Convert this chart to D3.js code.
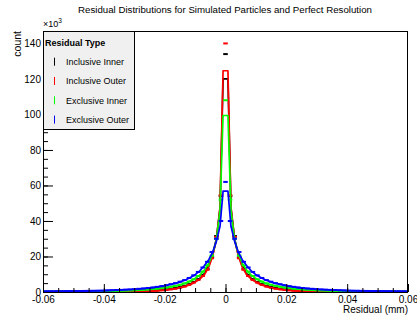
<!DOCTYPE html>
<html>
<head>
<meta charset="utf-8">
<script src="https://cdn.jsdelivr.net/npm/d3@7"></script>
<style>
  body { margin: 0; background: #fff; }
  svg { display: block; font-family: "Liberation Sans", Arial, Helvetica, sans-serif; }
</style>
</head>
<body>
<div id="chart"></div>
<script>
// histogram bins: 81 bins of 0.0015 mm, centres from -0.06 to 0.06 (counts in thousands)
var binStart = -0.06, binWidth = 0.0015;

var inclInner = [
  0.07,0.07,0.08,0.08,0.09,0.09,0.10,0.10,0.11,0.12,
  0.13,0.14,0.15,0.16,0.18,0.20,0.23,0.26,0.30,0.35,
  0.40,0.47,0.55,0.65,0.78,0.95,1.18,1.45,1.8,2.25,
  2.8,3.5,4.4,5.6,7.2,9.5,13,19.5,31.5,54,
  134,
  54,31.5,19.5,13,9.5,7.2,5.6,4.4,3.5,2.8,
  2.25,1.8,1.45,1.18,0.95,0.78,0.65,0.55,0.47,0.40,
  0.35,0.30,0.26,0.23,0.20,0.18,0.16,0.15,0.14,0.13,
  0.12,0.11,0.10,0.10,0.09,0.09,0.08,0.08,0.07,0.07
];
var inclOuter = [
  0.05,0.05,0.06,0.06,0.06,0.07,0.07,0.08,0.08,0.09,
  0.09,0.10,0.11,0.12,0.13,0.15,0.17,0.19,0.22,0.26,
  0.30,0.36,0.42,0.50,0.60,0.75,0.95,1.2,1.5,1.9,
  2.4,3.1,4.0,5.3,6.8,9.0,12.5,19,31,54.5,
  140,
  54.5,31,19,12.5,9.0,6.8,5.3,4.0,3.1,2.4,
  1.9,1.5,1.2,0.95,0.75,0.60,0.50,0.42,0.36,0.30,
  0.26,0.22,0.19,0.17,0.15,0.13,0.12,0.11,0.10,0.09,
  0.09,0.08,0.08,0.07,0.07,0.06,0.06,0.06,0.05,0.05
];
var exclInner = [
  0.16,0.17,0.18,0.20,0.21,0.23,0.25,0.27,0.29,0.32,
  0.35,0.39,0.43,0.47,0.52,0.58,0.65,0.72,0.80,0.90,
  1.0,1.12,1.27,1.45,1.65,1.9,2.2,2.55,3.0,3.5,
  4.1,4.9,5.9,7.2,9.0,11.5,15,20.5,30,52,
  108,
  52,30,20.5,15,11.5,9.0,7.2,5.9,4.9,4.1,
  3.5,3.0,2.55,2.2,1.9,1.65,1.45,1.27,1.12,1.0,
  0.90,0.80,0.72,0.65,0.58,0.52,0.47,0.43,0.39,0.35,
  0.32,0.29,0.27,0.25,0.23,0.21,0.20,0.18,0.17,0.16
];
var exclOuter = [
  0.34,0.36,0.38,0.40,0.43,0.46,0.49,0.52,0.56,0.60,
  0.65,0.70,0.76,0.83,0.90,0.98,1.08,1.18,1.3,1.45,
  1.6,1.8,2.0,2.25,2.55,2.9,3.3,3.8,4.4,5.0,
  5.8,6.7,7.9,9.4,11.3,13.8,17,22.5,30,40,
  62,
  40,30,22.5,17,13.8,11.3,9.4,7.9,6.7,5.8,
  5.0,4.4,3.8,3.3,2.9,2.55,2.25,2.0,1.8,1.6,
  1.45,1.3,1.18,1.08,0.98,0.90,0.83,0.76,0.70,0.65,
  0.60,0.56,0.52,0.49,0.46,0.43,0.40,0.38,0.36,0.34
];

// fitted curves, sampled at curveX (thousands)
var curveX = [-0.06,-0.05,-0.04,-0.03,-0.025,-0.02,-0.016,-0.013,-0.0105,-0.0085,-0.007,-0.0055,-0.0042,-0.003,-0.0018,-0.0008,
              0.0008,0.0018,0.003,0.0042,0.0055,0.007,0.0085,0.0105,0.013,0.016,0.02,0.025,0.03,0.04,0.05,0.06];
var inclInnerFit = [0.07,0.10,0.17,0.38,0.65,1.25,2.2,3.5,5.3,7.6,10.2,14.8,21,30,47,120,
                    120,47,30,21,14.8,10.2,7.6,5.3,3.5,2.2,1.25,0.65,0.38,0.17,0.10,0.07];
var inclOuterFit = [0.05,0.08,0.12,0.28,0.50,1.05,1.95,3.2,5.0,7.2,9.6,14,20.5,29.5,48,124.6,
                    124.6,48,29.5,20.5,14,9.6,7.2,5.0,3.2,1.95,1.05,0.50,0.28,0.12,0.08,0.05];
var exclInnerFit = [0.16,0.26,0.47,0.97,1.45,2.35,3.55,5.0,7.0,9.4,12.2,16.2,21.8,29,46,99.4,
                    99.4,46,29,21.8,16.2,12.2,9.4,7.0,5.0,3.55,2.35,1.45,0.97,0.47,0.26,0.16];
var exclOuterFit = [0.33,0.50,0.82,1.55,2.2,3.5,5.0,6.9,9.1,11.8,14.8,18.2,22.5,28.5,37,56.8,
                    56.8,37,28.5,22.5,18.2,14.8,11.8,9.1,6.9,5.0,3.5,2.2,1.55,0.82,0.50,0.33];

var seriesNames = ["Inclusive Inner", "Inclusive Outer", "Exclusive Inner", "Exclusive Outer"];
var seriesColors = ["#000000", "#ff0000", "#00ff00", "#0000ff"];
var histData = [inclInner, inclOuter, exclInner, exclOuter];
var fitData = [inclInnerFit, inclOuterFit, exclInnerFit, exclOuterFit];

var xTicks = [-0.06, -0.04, -0.02, 0, 0.02, 0.04, 0.06];
var yTicks = [0, 20, 40, 60, 80, 100, 120, 140];

var width = 417, height = 320;
var padL = 43, padR = 408, padT = 31, padB = 292;

var svg = d3.select("#chart").append("svg")
    .attr("width", width)
    .attr("height", height);

var x = d3.scaleLinear().domain([-0.06, 0.06]).range([padL, padR]);
var y = d3.scaleLinear().domain([0, 147]).range([padB, padT]);

svg.append("defs").append("clipPath").attr("id", "frame")
  .append("rect")
    .attr("x", padL).attr("y", padT)
    .attr("width", padR - padL).attr("height", padB - padT);

// title
svg.append("text")
    .attr("x", 225)
    .attr("y", 12.5)
    .attr("text-anchor", "middle")
    .style("font-size", "9.7px")
    .text("Residual Distributions for Simulated Particles and Perfect Resolution");

// histograms + fits
var plot = svg.append("g").attr("clip-path", "url(#frame)");
var line = d3.line()
    .x(function (d) { return x(d[0]); })
    .y(function (d) { return y(d[1]); });

histData.forEach(function (hist, s) {
  var col = seriesColors[s];
  var fit = curveX.map(function (cx, i) { return [cx, fitData[s][i]]; });
  plot.append("path")
      .attr("d", line(fit))
      .attr("fill", "none")
      .attr("stroke", col)
      .attr("stroke-width", 1.7)
      .attr("stroke-linejoin", "round");

  plot.selectAll(null)
      .data(hist)
      .enter()
      .append("line")
      .attr("x1", function (d, i) { return x(binStart + i * binWidth - binWidth / 2); })
      .attr("x2", function (d, i) { return x(binStart + i * binWidth + binWidth / 2); })
      .attr("y1", function (d) { return y(d); })
      .attr("y2", function (d) { return y(d); })
      .attr("stroke", col)
      .attr("stroke-width", 2);
});

// axes, ROOT style: ticks drawn inside the frame
var xAxis = svg.append("g")
    .attr("transform", "translate(0," + padB + ")")
    .call(d3.axisBottom(x).tickValues(xTicks).tickSize(-8).tickPadding(4)
      .tickFormat(function (d) { return d === 0 ? "0" : d.toFixed(2); }));
var xMinor = svg.append("g")
    .attr("transform", "translate(0," + padB + ")")
    .call(d3.axisBottom(x).tickValues(d3.range(-0.06, 0.0601, 0.005)).tickSize(-4).tickFormat(""));
xAxis.selectAll(".domain").remove();
xMinor.selectAll(".domain").remove();
xAxis.selectAll("text").style("font-size", "10px").attr("fill", "#000");

var yAxis = svg.append("g")
    .attr("transform", "translate(" + padL + ",0)")
    .call(d3.axisLeft(y).tickValues(yTicks).tickSize(-10).tickPadding(2));
var yMinor = svg.append("g")
    .attr("transform", "translate(" + padL + ",0)")
    .call(d3.axisLeft(y).tickValues(d3.range(0, 146, 5)).tickSize(-5).tickFormat(""));
yAxis.selectAll(".domain").remove();
yMinor.selectAll(".domain").remove();
yAxis.selectAll("text").style("font-size", "10px").attr("fill", "#000");

// frame
svg.append("rect")
    .attr("x", padL + 0.5).attr("y", padT + 0.5)
    .attr("width", padR - padL - 1).attr("height", padB - padT)
    .attr("fill", "none")
    .attr("stroke", "#000")
    .attr("stroke-width", 1);

// axis titles
svg.append("text")
    .attr("x", padR)
    .attr("y", 313)
    .attr("text-anchor", "end")
    .style("font-size", "10px")
    .text("Residual (mm)");

svg.append("text")
    .attr("transform", "translate(21," + padT + ") rotate(-90)")
    .attr("text-anchor", "end")
    .style("font-size", "10.5px")
    .text("count");

var exp = svg.append("text")
    .attr("x", padL)
    .attr("y", 27)
    .style("font-size", "9px")
    .text("\u00d710");
exp.append("tspan")
    .attr("dy", -4)
    .style("font-size", "6.5px")
    .text("3");

// legend
var legend = svg.append("g");
legend.append("rect")
    .attr("x", padL + 0.5).attr("y", padT + 0.5)
    .attr("width", 91).attr("height", 98)
    .attr("fill", "#f0f0f0")
    .attr("stroke", "#000");
legend.append("text")
    .attr("x", 45)
    .attr("y", 45.5)
    .style("font-size", "9px")
    .style("font-weight", "bold")
    .text("Residual Type");

seriesNames.forEach(function (name, i) {
  var cy = 61.7 + i * 19.3;
  legend.append("line")
      .attr("x1", 54.5).attr("x2", 54.5)
      .attr("y1", cy - 4).attr("y2", cy + 4)
      .attr("stroke", seriesColors[i])
      .attr("stroke-width", 1);
  legend.append("text")
      .attr("x", 66)
      .attr("y", cy + 3.2)
      .style("font-size", "9px")
      .text(name);
});
</script>
</body>
</html>
